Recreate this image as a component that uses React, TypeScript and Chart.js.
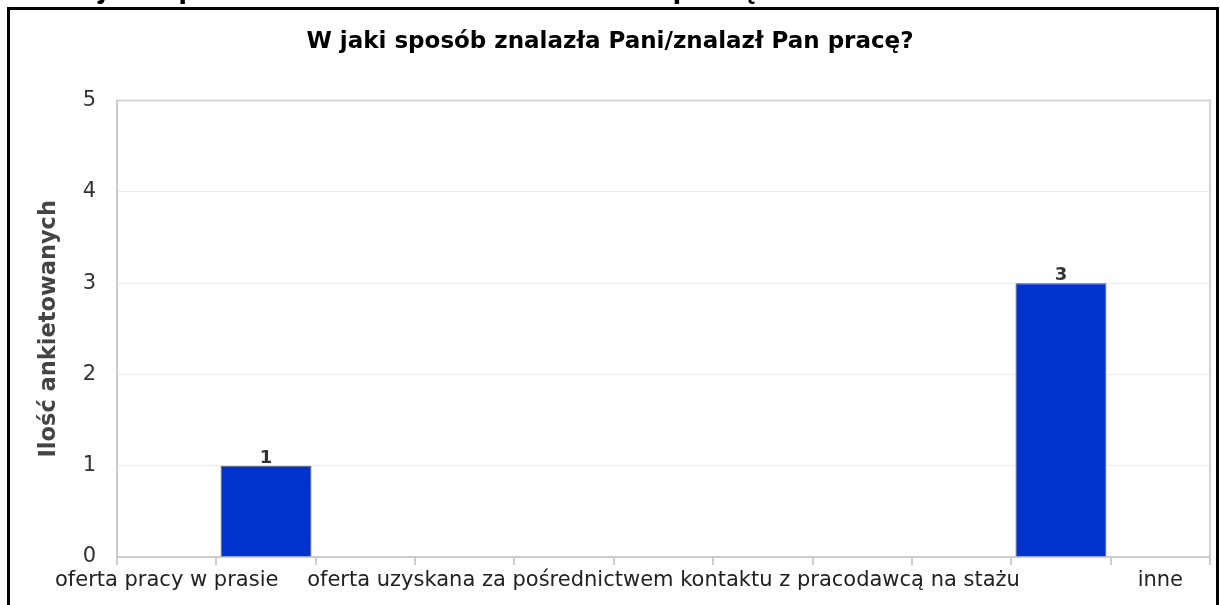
import React, { useEffect, useRef } from "react";
import { Chart, registerables } from "chart.js";

Chart.register(...registerables);

const pageHeading = "W jaki sposób znalazła Pani/znalazł Pan pracę?";
const chartTitle = "W jaki sposób znalazła Pani/znalazł Pan pracę?";
const yAxisTitle = "Ilość ankietowanych";
const categories = [
  "oferta pracy w prasie",
  "",
  "",
  "",
  "",
  "oferta uzyskana za pośrednictwem kontaktu z pracodawcą na stażu",
  "",
  "",
  "",
  "",
  "inne",
];
const respondents: (number | null)[] = [null, 1, null, null, null, null, null, null, null, 3, null];
const yMin = 0;
const yMax = 5;
const yStep = 1;

const FONT = "'DejaVu Sans', sans-serif";

const valueLabels = {
  id: "valueLabels",
  afterDatasetsDraw(chart: any) {
    const ctx = chart.ctx;
    const meta = chart.getDatasetMeta(0);
    ctx.save();
    ctx.font = `bold 18px ${FONT}`;
    ctx.fillStyle = "#333333";
    ctx.textAlign = "center";
    ctx.textBaseline = "alphabetic";
    meta.data.forEach((el: any, i: number) => {
      const v = respondents[i];
      if (v === null || v === undefined) return;
      ctx.fillText(String(v), el.x, el.y - 3);
    });
    ctx.restore();
  },
};

const plotFrame = {
  id: "plotFrame",
  afterDraw(chart: any) {
    const { ctx, chartArea } = chart;
    ctx.save();
    ctx.strokeStyle = "#d4d4d4";
    ctx.lineWidth = 2;
    ctx.beginPath();
    ctx.moveTo(chartArea.left, chartArea.top);
    ctx.lineTo(chartArea.right, chartArea.top);
    ctx.lineTo(chartArea.right, chartArea.bottom);
    ctx.stroke();
    ctx.restore();
  },
};

export default function App() {
  const ref = useRef<HTMLCanvasElement | null>(null);

  useEffect(() => {
    if (!ref.current) return;
    const chart = new Chart(ref.current, {
      type: "bar",
      data: {
        labels: categories,
        datasets: [
          {
            data: respondents as any,
            backgroundColor: "#0033cc",
            borderColor: "#5a5a5a",
            borderWidth: 1,
            barPercentage: 0.915,
            categoryPercentage: 1,
          },
        ],
      },
      options: {
        responsive: false,
        animation: false,
        layout: { padding: { left: 0, right: 6, top: 0, bottom: 0 } },
        plugins: {
          legend: { display: false },
          tooltip: { enabled: false },
          title: {
            display: true,
            text: chartTitle,
            color: "#000000",
            font: { family: FONT, size: 23, weight: "bold" },
            padding: { top: 18, bottom: 45 },
          },
        },
        scales: {
          x: {
            offset: true,
            grid: {
              offset: true,
              drawOnChartArea: false,
              drawTicks: true,
              tickLength: 8,
              color: "#cccccc",
              lineWidth: 2,
            },
            border: { display: true, color: "#cccccc", width: 2 },
            ticks: {
              autoSkip: false,
              maxRotation: 0,
              minRotation: 0,
              padding: 3,
              color: "#222222",
              font: { family: FONT, size: 21 },
            },
            afterFit: (s: any) => {
              s.height = 48;
            },
          },
          y: {
            min: yMin,
            max: yMax,
            ticks: {
              stepSize: yStep,
              padding: 21,
              color: "#333333",
              font: { family: FONT, size: 21 },
            },
            grid: {
              drawTicks: false,
              color: "#ebebeb",
              lineWidth: 1,
            },
            border: { display: true, color: "#cccccc", width: 2 },
            title: {
              display: true,
              text: yAxisTitle,
              color: "#444444",
              font: { family: FONT, size: 22.5, weight: "bold" },
              padding: { top: 26, bottom: 0 },
            },
            afterFit: (s: any) => {
              s.width = 107;
            },
          },
        },
      },
      plugins: [valueLabels, plotFrame],
    });
    return () => chart.destroy();
  }, []);

  return (
    <div>
      <div
        style={{
          position: "fixed",
          left: 59,
          top: -30,
          fontFamily: "'Liberation Sans', Arial, sans-serif",
          fontWeight: "bold",
          fontSize: 32,
          lineHeight: "32px",
          whiteSpace: "nowrap",
          color: "#000",
        }}
      >
        {pageHeading}
      </div>
      <div
        style={{
          position: "fixed",
          left: 7,
          top: 7,
          width: 1212,
          height: 700,
          boxSizing: "border-box",
          border: "3px solid #000",
          background: "#fff",
        }}
      />
      <canvas
        ref={ref}
        width={1206}
        height={595}
        style={{ position: "fixed", left: 10, top: 10, width: 1206, height: 595 }}
      />
    </div>
  );
}
